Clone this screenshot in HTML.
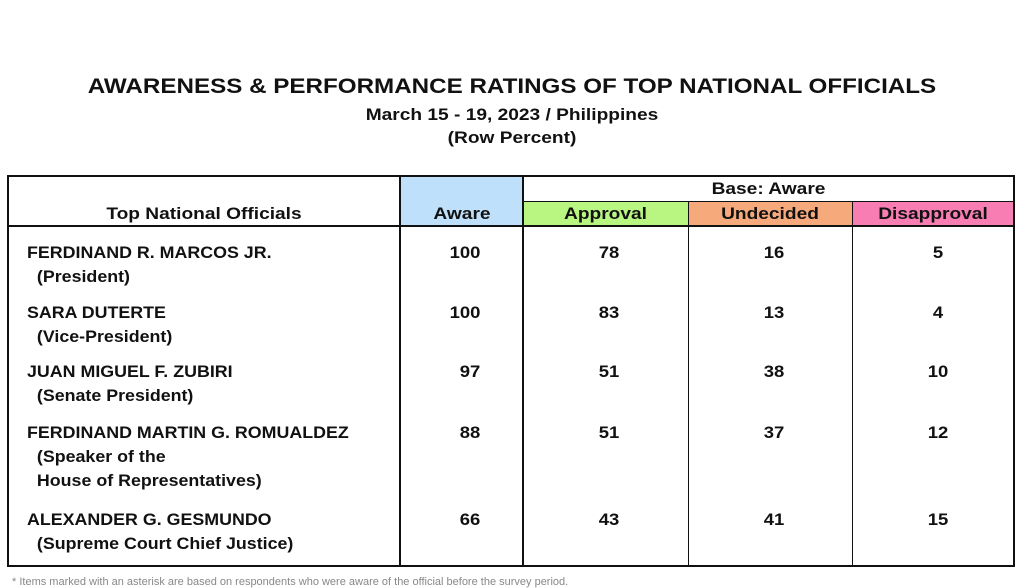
<!DOCTYPE html>
<html><head><meta charset="utf-8"><style>
body{margin:0;width:1024px;height:584px;background:#fff;position:relative;overflow:hidden;font-family:"Liberation Sans",Arial,sans-serif;font-weight:bold;color:#111}
.a{position:absolute;white-space:nowrap}
.c{text-align:center;transform:scaleX(1.16);transform-origin:center}
.l{position:absolute;background:#111}
.n{font-size:16.5px;line-height:24px;transform:scaleX(1.08);transform-origin:left}
.v{font-size:16.5px;line-height:20px;text-align:center;transform:scaleX(1.12);transform-origin:center}
</style></head><body>
<div class="a c" style="left:0;width:1024px;top:72px;font-size:21.5px;line-height:28px;transform:scaleX(1.125)">AWARENESS &amp; PERFORMANCE RATINGS OF TOP NATIONAL OFFICIALS</div>
<div class="a c" style="left:0;width:1024px;top:104px;font-size:16.5px;line-height:22px">March 15 - 19, 2023 / Philippines</div>
<div class="a c" style="left:0;width:1024px;top:127px;font-size:16.5px;line-height:22px">(Row Percent)</div>

<div class="a" style="left:401px;top:177px;width:122px;height:49px;background:#bfe0fb"></div>
<div class="a" style="left:524px;top:202px;width:164px;height:24px;background:#b9f581"></div>
<div class="a" style="left:689px;top:202px;width:163px;height:24px;background:#f6a97a"></div>
<div class="a" style="left:853px;top:202px;width:160px;height:24px;background:#f77db3"></div>

<div class="a c" style="left:8px;width:392px;top:205px;font-size:16.5px">Top National Officials</div>
<div class="a c" style="left:400px;width:124px;top:205px;font-size:16.5px">Aware</div>
<div class="a c" style="left:523px;width:491px;top:180px;font-size:16.5px">Base: Aware</div>
<div class="a c" style="left:523px;width:165px;top:205px;font-size:16.5px">Approval</div>
<div class="a c" style="left:688px;width:164px;top:205px;font-size:16.5px">Undecided</div>
<div class="a c" style="left:852px;width:162px;top:205px;font-size:16.5px">Disapproval</div>

<div class="l" style="left:7px;top:175px;width:1008px;height:2px"></div>
<div class="l" style="left:7px;top:565px;width:1008px;height:2px"></div>
<div class="l" style="left:7px;top:175px;width:2px;height:392px"></div>
<div class="l" style="left:1013px;top:175px;width:2px;height:392px"></div>
<div class="l" style="left:399px;top:175px;width:2px;height:392px"></div>
<div class="l" style="left:522px;top:175px;width:2px;height:392px"></div>
<div class="l" style="left:7px;top:225px;width:1008px;height:2px"></div>
<div class="l" style="left:523px;top:201px;width:491px;height:1px"></div>
<div class="l" style="left:688px;top:201px;width:1px;height:365px"></div>
<div class="l" style="left:852px;top:201px;width:1px;height:365px"></div>

<div class="a n" style="left:27px;top:241px">FERDINAND R. MARCOS JR.<br>&nbsp;&nbsp;(President)</div>
<div class="a n" style="left:27px;top:301px">SARA DUTERTE<br>&nbsp;&nbsp;(Vice-President)</div>
<div class="a n" style="left:27px;top:360px">JUAN MIGUEL F. ZUBIRI<br>&nbsp;&nbsp;(Senate President)</div>
<div class="a n" style="left:27px;top:421px">FERDINAND MARTIN G. ROMUALDEZ<br>&nbsp;&nbsp;(Speaker of the<br>&nbsp;&nbsp;House of Representatives)</div>
<div class="a n" style="left:27px;top:508px">ALEXANDER G. GESMUNDO<br>&nbsp;&nbsp;(Supreme Court Chief Justice)</div>

<div class="a v" style="left:400px;width:130px;top:243px">100</div>
<div class="a v" style="left:523px;width:172px;top:243px">78</div>
<div class="a v" style="left:688px;width:172px;top:243px">16</div>
<div class="a v" style="left:852px;width:172px;top:243px">5</div>

<div class="a v" style="left:400px;width:130px;top:303px">100</div>
<div class="a v" style="left:523px;width:172px;top:303px">83</div>
<div class="a v" style="left:688px;width:172px;top:303px">13</div>
<div class="a v" style="left:852px;width:172px;top:303px">4</div>

<div class="a v" style="left:400px;width:140px;top:362px">97</div>
<div class="a v" style="left:523px;width:172px;top:362px">51</div>
<div class="a v" style="left:688px;width:172px;top:362px">38</div>
<div class="a v" style="left:852px;width:172px;top:362px">10</div>

<div class="a v" style="left:400px;width:140px;top:423px">88</div>
<div class="a v" style="left:523px;width:172px;top:423px">51</div>
<div class="a v" style="left:688px;width:172px;top:423px">37</div>
<div class="a v" style="left:852px;width:172px;top:423px">12</div>

<div class="a v" style="left:400px;width:140px;top:510px">66</div>
<div class="a v" style="left:523px;width:172px;top:510px">43</div>
<div class="a v" style="left:688px;width:172px;top:510px">41</div>
<div class="a v" style="left:852px;width:172px;top:510px">15</div>

<div class="a" style="left:12px;top:576px;font-size:11px;font-weight:normal;color:#888">* Items marked with an asterisk are based on respondents who were aware of the official before the survey period.</div>
</body></html>
